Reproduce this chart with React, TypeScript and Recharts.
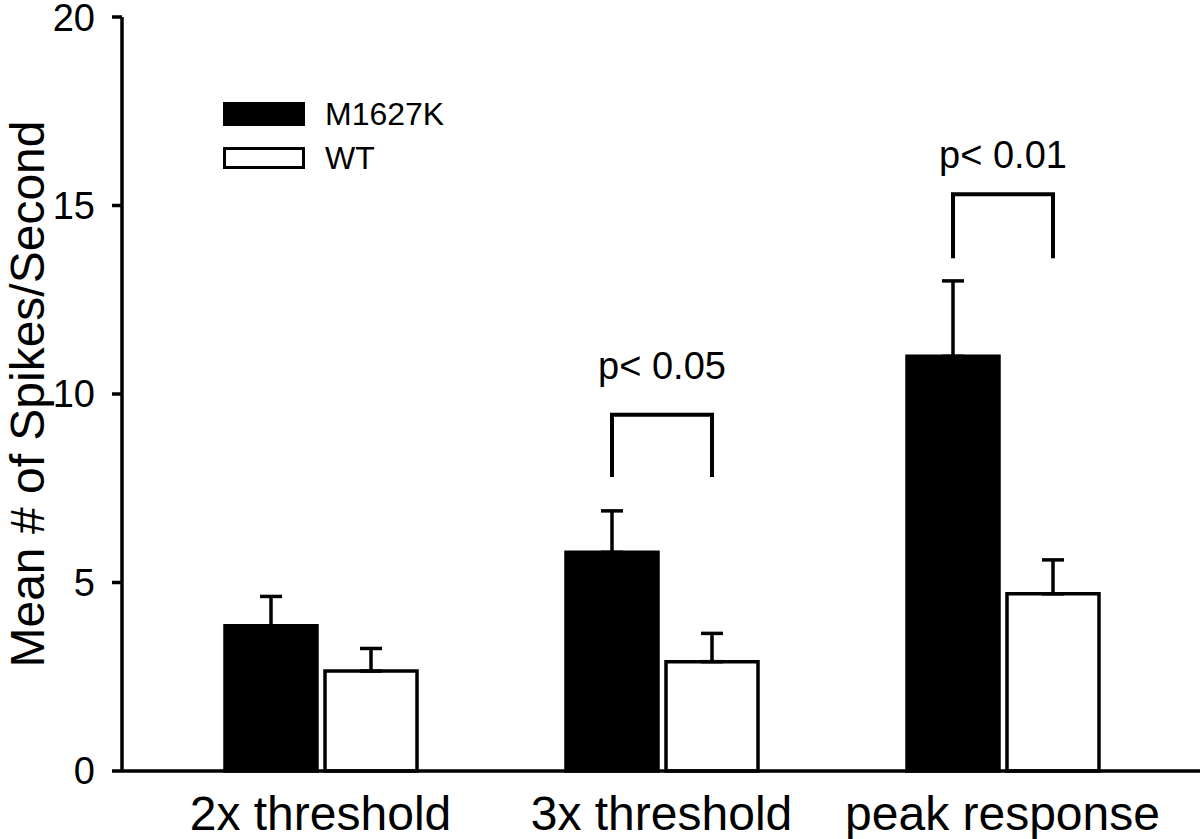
import { Bar, BarChart, ErrorBar, LabelList, Legend, XAxis, YAxis } from "recharts";

const categories = ["2x threshold", "3x threshold", "peak response"];
const mutantMean = [3.85, 5.8, 11.0]; // M1627K
const mutantErr = [0.78, 1.1, 2.0];
const wtMean = [2.65, 2.9, 4.7]; // WT
const wtErr = [0.6, 0.75, 0.9];
// significance brackets (y values in spikes/s)
const bracketTop = [null, 9.45, 15.3];
const bracketLeg = [null, 7.8, 13.6];
const pLabel = [null, "p< 0.05", "p< 0.01"];
const pLabelY = [null, 10.4, 16.0];
const yTicks = [0, 5, 10, 15, 20];

const FONT = "'Liberation Sans', Arial, Helvetica, sans-serif";
const BAR_GAP = 8;

const data = categories.map((cat, i) => ({
  cat,
  m: mutantMean[i],
  mErr: [0, mutantErr[i]],
  wt: wtMean[i],
  wtErr: [0, wtErr[i]],
}));

// drawn off the black bar: bracket from its centre to the WT bar centre
function renderBracket(props: any) {
  const { x, y, width, height, value } = props;
  const i = categories.indexOf(value);
  if (i < 0 || bracketTop[i] == null) return null;
  const base = y + height;
  const k = height / mutantMean[i];
  const py = (v: number) => base - v * k;
  const left = x + width / 2;
  const right = x + width + BAR_GAP + width / 2;
  const top = py(bracketTop[i] as number);
  const leg = py(bracketLeg[i] as number);
  return (
    <g>
      <path
        d={`M${left},${leg} L${left},${top} L${right},${top} L${right},${leg}`}
        fill="none"
        stroke="#000"
        strokeWidth={4}
      />
      <text
        x={(left + right) / 2}
        y={py(pLabelY[i] as number)}
        textAnchor="middle"
        fontSize={38}
        fontFamily={FONT}
        fill="#000"
      >
        {pLabel[i]}
      </text>
    </g>
  );
}

function LegendBox() {
  const row = { display: "flex", alignItems: "center", height: 22 } as const;
  const txt = { fontSize: 32, fontFamily: FONT, color: "#000", marginLeft: 20, lineHeight: "32px" };
  return (
    <div>
      <div style={{ ...row, height: 24 }}>
        <div style={{ width: 82, height: 24, background: "#000" }} />
        <span style={txt}>M1627K</span>
      </div>
      <div style={{ ...row, marginTop: 21 }}>
        <div style={{ width: 76, height: 16, background: "#fff", border: "3px solid #000" }} />
        <span style={txt}>WT</span>
      </div>
    </div>
  );
}

export default function App() {
  return (
    <div style={{ width: 1200, height: 839, background: "#fff" }}>
      <style>{`body{margin:0}`}</style>
      <BarChart
        width={1200}
        height={839}
        data={data}
        margin={{ top: 17, right: 0, left: 0, bottom: 0 }}
        barGap={BAR_GAP}
        style={{ fontFamily: FONT }}
      >
        <XAxis
          dataKey="cat"
          height={68}
          interval={0}
          padding={{ left: 28, right: 27 }}
          axisLine={{ stroke: "#000", strokeWidth: 3.5 }}
          tickLine={false}
          tickSize={0}
          tickMargin={25}
          tick={{ fill: "#000", fontSize: 48, fontFamily: FONT }}
        />
        <YAxis
          width={122}
          domain={[0, 20]}
          ticks={yTicks}
          interval={0}
          axisLine={{ stroke: "#000", strokeWidth: 3.5 }}
          tickLine={{ stroke: "#000", strokeWidth: 3.5 }}
          tickSize={10}
          tickMargin={17}
          tick={{ fill: "#000", fontSize: 38, fontFamily: FONT }}
          label={{
            content: (p: any) => {
              const vb = p.viewBox || {};
              const cy = (vb.y ?? 17) + (vb.height ?? 754) / 2;
              return (
                <text
                  x={44}
                  y={cy}
                  transform={`rotate(-90, 44, ${cy})`}
                  textAnchor="middle"
                  fontSize={48}
                  fontFamily={FONT}
                  fill="#000"
                >
                  Mean # of Spikes/Second
                </text>
              );
            },
          }}
        />
        <Legend
          layout="horizontal"
          verticalAlign="middle"
          align="center"
          content={() => <LegendBox />}
          wrapperStyle={{ position: "absolute", left: 223, top: 102, width: "auto", height: "auto" }}
        />
        <Bar dataKey="m" name="M1627K" fill="#000" stroke="#000" strokeWidth={3.5} barSize={92} isAnimationActive={false}>
          <ErrorBar dataKey="mErr" width={11} stroke="#000" strokeWidth={3.5} direction="y" />
          <LabelList dataKey="cat" content={renderBracket} />
        </Bar>
        <Bar dataKey="wt" name="WT" fill="#fff" stroke="#000" strokeWidth={3.5} barSize={92} isAnimationActive={false}>
          <ErrorBar dataKey="wtErr" width={11} stroke="#000" strokeWidth={3.5} direction="y" />
        </Bar>
      </BarChart>
    </div>
  );
}
